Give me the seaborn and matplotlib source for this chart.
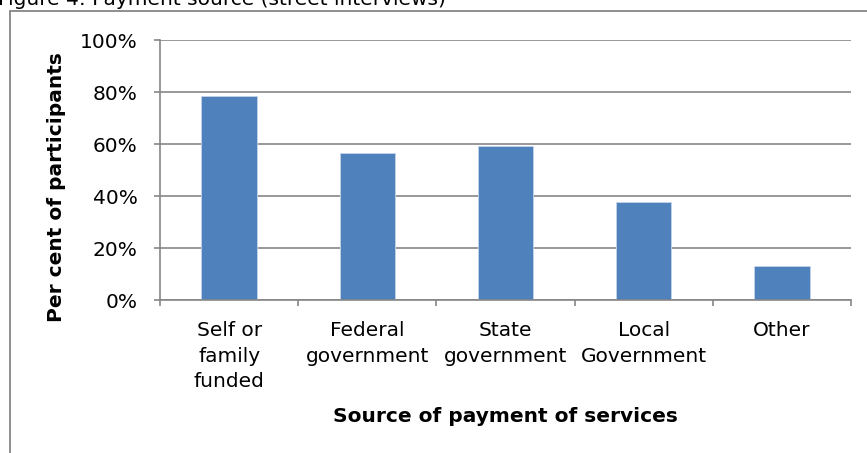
import matplotlib
matplotlib.use("Agg")
import matplotlib.pyplot as plt
from matplotlib.lines import Line2D
from matplotlib.ticker import PercentFormatter
import seaborn as sns
import pandas as pd

# Payment sources and share of participants (per cent)
sources = ["Self or\nfamily\nfunded", "Federal\ngovernment", "State\ngovernment",
           "Local\nGovernment", "Other"]
shares = [78.5, 56.7, 59.3, 37.7, 13.2]
y_ticks = [0, 20, 40, 60, 80, 100]

title = "Figure 4: Payment source (street interviews)"
x_title = "Source of payment of services"
y_title = "Per cent of participants"

sns.set_theme(style="white")
plt.rcParams["font.family"] = ["DejaVu Sans"]
plt.rcParams["text.color"] = "black"
plt.rcParams["xtick.labelcolor"] = "black"
plt.rcParams["ytick.labelcolor"] = "black"

W, H = 867, 453
fig = plt.figure(figsize=(W / 100, H / 100), dpi=100)
fig.patch.set_facecolor("white")

ax = fig.add_axes([160 / W, 1 - 300 / H, (851 - 160) / W, (300 - 40) / H])

df = pd.DataFrame({"source": sources, "share": shares})
sns.barplot(data=df, x="source", y="share", ax=ax, color="#4F81BD",
            saturation=1, width=0.4, edgecolor="#C3D3EA", linewidth=0.6)

grid_col = "#868686"
ax.set_ylim(0, 100)
ax.set_xlim(-0.5, len(sources) - 0.5)
ax.set_yticks(y_ticks)
ax.yaxis.set_major_formatter(PercentFormatter(decimals=0))
ax.yaxis.grid(True, color=grid_col, linewidth=1.2)
ax.set_axisbelow(True)

for s in ["top", "right"]:
    ax.spines[s].set_visible(False)
for s in ["left", "bottom"]:
    ax.spines[s].set_color(grid_col)
    ax.spines[s].set_linewidth(1.2)

ax.set_xticks(range(len(sources)))
ax.set_xticklabels(sources, fontsize=14.5, linespacing=1.45, color="black")
ax.set_xticks([i - 0.5 for i in range(len(sources) + 1)], minor=True)
ax.tick_params(axis="x", which="major", length=0, pad=15)
ax.tick_params(axis="x", which="minor", bottom=True, length=4.5, width=1.2,
               color=grid_col)
ax.tick_params(axis="y", left=True, length=4, width=1.2, color=grid_col,
               pad=12, labelsize=14.5)
ax.set_xlabel("")
ax.set_ylabel("")

fig.text(505 / W, 1 - 416 / H, x_title, ha="center", va="center",
         fontsize=14.5, fontweight="bold", color="black")
fig.text(57 / W, 1 - 187 / H, y_title, ha="center", va="center",
         rotation=90, fontsize=14.5, fontweight="bold", color="black")
fig.text(-2 / W, 1 - 5 / H, title, ha="left", va="baseline", fontsize=14.5,
         color="black")

# chart area frame
fig.add_artist(Line2D([9.5 / W, 9.5 / W], [0, 1 - 11 / H], color=grid_col,
                      linewidth=1.3, transform=fig.transFigure))
fig.add_artist(Line2D([9.5 / W, 1], [1 - 11 / H, 1 - 11 / H], color=grid_col,
                      linewidth=1.3, transform=fig.transFigure))

fig.savefig("out.png", dpi=100)
